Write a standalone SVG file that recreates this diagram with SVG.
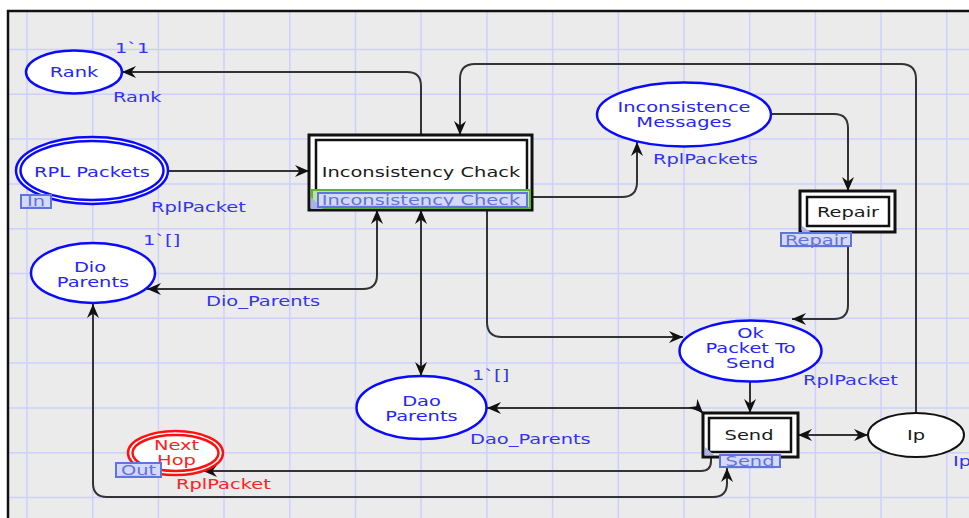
<svg xmlns="http://www.w3.org/2000/svg" width="969" height="518" viewBox="0 0 969 518">
  <style>
    .bg { fill: #ebebeb; }
    .grid line { stroke: #cdd0ff; stroke-width: 1.5; }
    .frame { fill: none; stroke: #111; stroke-width: 2.5; }
    .place { fill: #fff; stroke: #0a0aff; stroke-width: 2.5; }
    .place-red { fill: #fff; stroke: #ff1010; stroke-width: 2.5; }
    .place-black { fill: #fff; stroke: #111; stroke-width: 2; }
    .trans-outer { fill: #fff; stroke: #111; stroke-width: 3; }
    .trans-inner { fill: #fff; stroke: #111; stroke-width: 2.5; }
    .tag { fill: #d6d9ff; stroke: #5f74dd; stroke-width: 2; }
    .corner { fill: #a9b0ea; }
    .arc { fill: none; stroke: #333; stroke-width: 2; marker-end: url(#ah); }
    .both { marker-start: url(#ah); }
    text { font-family: "DejaVu Sans", Verdana, sans-serif; font-size: 13.5px; }
    .pname { fill: #2424ff; text-anchor: middle; }
    .tname { fill: #1a1a1a; text-anchor: middle; }
    .insc { fill: #3434ee; }
    .red { fill: #ff2020; }
    .tagtxt { fill: #5f74dd; text-anchor: middle; text-decoration: underline; }
  </style>
  <defs>
    <marker id="ah" viewBox="0 0 14 12" refX="14" refY="6" markerWidth="14" markerHeight="12" markerUnits="userSpaceOnUse" orient="auto-start-reverse">
      <path d="M0,0 L14,6 L0,12 L4.5,6 z" fill="#111"/>
    </marker>
  </defs>

  <!-- page and grid -->
  <rect x="0" y="0" width="969" height="518" fill="#fff"/>
  <rect class="bg" x="8" y="11" width="975" height="520"/>
  <g class="grid">
    <line x1="27" y1="12" x2="27" y2="518"/>
    <line x1="92.7" y1="12" x2="92.7" y2="518"/>
    <line x1="158.4" y1="12" x2="158.4" y2="518"/>
    <line x1="224" y1="12" x2="224" y2="518"/>
    <line x1="289.8" y1="12" x2="289.8" y2="518"/>
    <line x1="355.5" y1="12" x2="355.5" y2="518"/>
    <line x1="421" y1="12" x2="421" y2="518"/>
    <line x1="486.9" y1="12" x2="486.9" y2="518"/>
    <line x1="552.6" y1="12" x2="552.6" y2="518"/>
    <line x1="618.3" y1="12" x2="618.3" y2="518"/>
    <line x1="684" y1="12" x2="684" y2="518"/>
    <line x1="749.7" y1="12" x2="749.7" y2="518"/>
    <line x1="815.4" y1="12" x2="815.4" y2="518"/>
    <line x1="881" y1="12" x2="881" y2="518"/>
    <line x1="946.8" y1="12" x2="946.8" y2="518"/>
    <line x1="9" y1="49.5" x2="969" y2="49.5"/>
    <line x1="9" y1="94.3" x2="969" y2="94.3"/>
    <line x1="9" y1="139.1" x2="969" y2="139.1"/>
    <line x1="9" y1="183.9" x2="969" y2="183.9"/>
    <line x1="9" y1="228.7" x2="969" y2="228.7"/>
    <line x1="9" y1="273.5" x2="969" y2="273.5"/>
    <line x1="9" y1="318.3" x2="969" y2="318.3"/>
    <line x1="9" y1="363.1" x2="969" y2="363.1"/>
    <line x1="9" y1="407.9" x2="969" y2="407.9"/>
    <line x1="9" y1="452.7" x2="969" y2="452.7"/>
    <line x1="9" y1="497.5" x2="969" y2="497.5"/>
  </g>
  <rect class="frame" x="8" y="11" width="975" height="520"/>

  <!-- arcs -->
  <g id="connectors">
    <path class="arc" d="M421,135 L421,86 Q421,72 407,72 L122,72"/>
    <path class="arc" d="M168,171 L309,171"/>
    <path class="arc" d="M916,413 L916,79 Q916,64 901,64 L475,64 Q460,64 460,79 L460,135"/>
    <path class="arc" d="M532,197 L622,197 Q637,197 637,182 L637,142"/>
    <path class="arc" d="M771,114 L834,114 Q848,114 848,128 L848,191"/>
    <path class="arc" d="M848,232 L848,305 Q848,319 834,319 L792,319"/>
    <path class="arc" d="M487,210 L487,322 Q487,337 502,337 L683,337"/>
    <path class="arc both" d="M421,210 L421,376"/>
    <path class="arc both" d="M377,210 L377,275 Q377,289 363,289 L147,289"/>
    <path class="arc both" d="M727,468 L727,483 Q727,497 713,497 L107,497 Q93,497 93,483 L93,304"/>
    <path class="arc" d="M711,457 L711,461 Q711,471 701,471 L203,471"/>
    <path class="arc both" d="M487,408 L690,408 Q698,408 703,413"/>
    <path class="arc" d="M750,382 L750,413"/>
    <path class="arc both" d="M798,435 L868,435"/>
  </g>

  <!-- places -->
  <g id="rank">
    <ellipse class="place" cx="74" cy="72" rx="48" ry="21.5"/>
    <text class="pname" transform="translate(74,77) scale(1.44,1)">Rank</text>
    <text class="insc" transform="translate(115,53) scale(1.44,1)">1`1</text>
    <text class="insc" transform="translate(113,102) scale(1.44,1)">Rank</text>
  </g>

  <g id="rpl-packets">
    <ellipse class="place" cx="92" cy="170.5" rx="76" ry="33.5"/>
    <ellipse class="place" cx="92" cy="170.5" rx="71.5" ry="29.5"/>
    <text class="pname" transform="translate(92,177) scale(1.44,1)">RPL Packets</text>
    <rect class="tag" x="21" y="195" width="30" height="13"/>
    <text class="tagtxt" transform="translate(36,206) scale(1.44,1)">In</text>
    <text class="insc" transform="translate(151,212) scale(1.44,1)">RplPacket</text>
  </g>

  <g id="dio-parents">
    <ellipse class="place" cx="93" cy="273" rx="62" ry="30"/>
    <text class="pname" transform="translate(90,272) scale(1.44,1)">Dio</text>
    <text class="pname" transform="translate(93,287) scale(1.44,1)">Parents</text>
    <text class="insc" transform="translate(143,245) scale(1.44,1)">1`[]</text>
    <text class="insc" transform="translate(206,306) scale(1.44,1)">Dio_Parents</text>
  </g>

  <g id="inconsistence-messages">
    <ellipse class="place" cx="684" cy="114.5" rx="87" ry="32"/>
    <text class="pname" transform="translate(684,112) scale(1.44,1)">Inconsistence</text>
    <text class="pname" transform="translate(684,127) scale(1.44,1)">Messages</text>
    <text class="insc" transform="translate(653,164) scale(1.44,1)">RplPackets</text>
  </g>

  <g id="ok-packet-to-send">
    <ellipse class="place" cx="750.5" cy="351" rx="71" ry="30.5"/>
    <text class="pname" transform="translate(750.5,338) scale(1.44,1)">Ok</text>
    <text class="pname" transform="translate(750.5,353) scale(1.44,1)">Packet To</text>
    <text class="pname" transform="translate(750.5,368) scale(1.44,1)">Send</text>
    <text class="insc" transform="translate(803,385) scale(1.44,1)">RplPacket</text>
  </g>

  <g id="dao-parents">
    <ellipse class="place" cx="421.5" cy="407.5" rx="65" ry="31.5"/>
    <text class="pname" transform="translate(421.5,406) scale(1.44,1)">Dao</text>
    <text class="pname" transform="translate(421.5,421) scale(1.44,1)">Parents</text>
    <text class="insc" transform="translate(472,380) scale(1.44,1)">1`[]</text>
    <text class="insc" transform="translate(470,444) scale(1.44,1)">Dao_Parents</text>
  </g>

  <g id="ip">
    <ellipse class="place-black" cx="916" cy="435" rx="48" ry="22"/>
    <text class="tname" transform="translate(916,440) scale(1.44,1)">Ip</text>
    <text class="insc" transform="translate(953,466) scale(1.44,1)">Ip</text>
  </g>

  <g id="next-hop">
    <ellipse class="place-red" cx="175.5" cy="453" rx="47.5" ry="22"/>
    <ellipse class="place-red" cx="175.5" cy="453" rx="43" ry="18"/>
    <text class="pname red" transform="translate(176.5,450) scale(1.44,1)">Next</text>
    <text class="pname red" transform="translate(176.5,465) scale(1.44,1)">Hop</text>
    <rect class="tag" x="116" y="463" width="45" height="14"/>
    <text class="tagtxt" transform="translate(138.5,475) scale(1.44,1)">Out</text>
    <text class="red" transform="translate(176,489) scale(1.44,1)">RplPacket</text>
  </g>

  <!-- transitions -->
  <g id="inconsistency-check">
    <rect class="trans-outer" x="309" y="135" width="223" height="75"/>
    <rect class="trans-inner" x="316" y="140" width="211" height="62"/>
    <rect x="312" y="190" width="218" height="18" fill="#b9e79a" stroke="#5fb233" stroke-width="2"/>
    <polygon class="corner" points="311,197 311,209 323,209"/>
    <text class="tname" transform="translate(421,177) scale(1.44,1)">Inconsistency Chack</text>
    <rect class="tag" x="318" y="193" width="209" height="14"/>
    <text class="tagtxt" transform="translate(421,205) scale(1.44,1)">Inconsistency Check</text>
  </g>

  <g id="repair">
    <rect class="trans-outer" x="800" y="191" width="95" height="41"/>
    <rect class="trans-inner" x="807" y="197" width="82" height="29"/>
    <polygon class="corner" points="802,226 802,233 812,233"/>
    <text class="tname" transform="translate(848,217) scale(1.44,1)">Repair</text>
    <rect class="tag" x="781" y="233" width="70" height="13"/>
    <text class="tagtxt" transform="translate(816,245) scale(1.44,1)">Repair</text>
  </g>

  <g id="send">
    <rect class="trans-outer" x="703" y="413" width="95" height="44"/>
    <rect class="trans-inner" x="709" y="418" width="82" height="34"/>
    <polygon class="corner" points="705,447 705,455 714,455"/>
    <text class="tname" transform="translate(749,440) scale(1.44,1)">Send</text>
    <rect class="tag" x="720" y="455" width="60" height="12"/>
    <text class="tagtxt" transform="translate(750,466) scale(1.44,1)">Send</text>
  </g>
</svg>
